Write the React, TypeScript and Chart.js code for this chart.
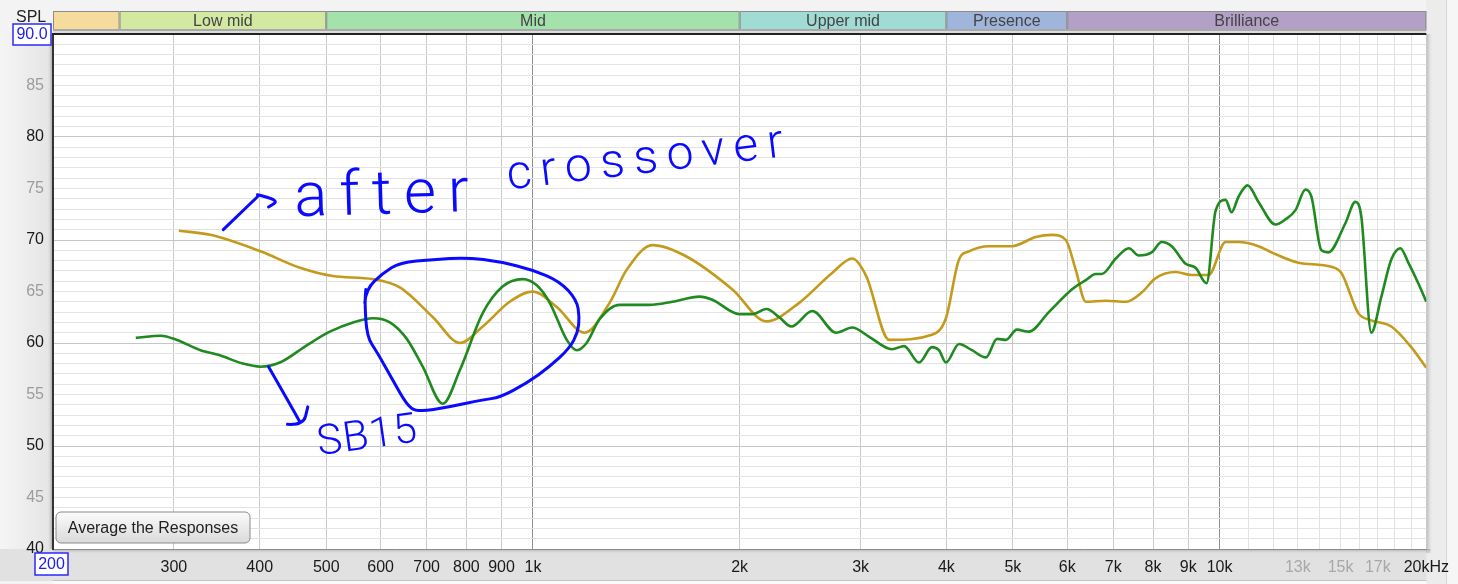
import React, { useEffect, useRef } from "react";
import { Chart, registerables } from "chart.js";

Chart.register(...registerables);

// ---- data (frequency in Hz, SPL in dB) ----
const greenFreq = [264, 287, 303, 328, 350, 378, 401, 428, 469, 506, 547, 585, 619, 655, 691, 739, 783, 845, 904, 966, 1013, 1058, 1120, 1158, 1197, 1250, 1337, 1478, 1596, 1748, 1825, 1998, 2087, 2188, 2284, 2378, 2552, 2764, 2917, 3088, 3334, 3471, 3650, 3811, 3902, 3994, 4173, 4358, 4567, 4741, 4884, 5066, 5274, 5640, 6092, 6383, 6602, 6735, 7060, 7376, 7625, 7962, 8234, 8514, 8922, 9226, 9572, 9864, 10202, 10408, 10655, 10982, 11392, 12060, 12472, 12898, 13335, 13604, 14068, 14398, 15241, 15762, 16081, 16631, 17202, 17783, 18331, 18827, 19467, 20000];
const greenSpl = [60.5, 60.7, 60.3, 59.3, 58.8, 58.0, 57.7, 58.1, 59.8, 61.1, 62.0, 62.4, 62.0, 60.4, 57.7, 54.1, 57.4, 62.9, 65.5, 66.2, 65.6, 63.9, 60.3, 59.3, 60.0, 62.3, 63.7, 63.7, 64.0, 64.5, 64.2, 62.8, 62.8, 63.3, 62.5, 61.6, 63.1, 61.0, 61.5, 60.6, 59.4, 59.7, 58.1, 59.6, 59.3, 58.1, 59.9, 59.3, 58.6, 60.4, 60.3, 61.3, 61.1, 63.0, 65.2, 66.1, 66.7, 66.7, 68.2, 69.2, 68.5, 68.8, 69.8, 69.4, 67.7, 67.3, 65.8, 72.8, 73.9, 72.7, 74.2, 75.3, 73.7, 71.5, 72.0, 72.9, 74.9, 74.2, 69.0, 68.8, 71.6, 73.7, 72.3, 61.0, 64.5, 68.1, 69.2, 67.8, 65.8, 64.0];

const goldFreq = [305, 339, 401, 458, 511, 585, 640, 715, 783, 845, 925, 999, 1083, 1189, 1293, 1369, 1493, 1673, 1952, 2188, 2442, 2727, 2917, 3057, 3302, 3811, 3994, 4173, 4315, 4613, 4984, 5400, 5698, 5971, 6173, 6383, 6826, 7300, 7700, 8070, 8628, 9103, 9636, 10202, 10655, 11392, 11898, 13027, 14546, 15043, 15924, 16631, 17783, 19012, 20000];
const goldSpl = [70.9, 70.5, 68.9, 67.3, 66.5, 66.2, 65.4, 62.5, 60.0, 61.6, 64.0, 65.0, 63.5, 61.0, 63.9, 67.1, 69.5, 68.4, 65.2, 62.1, 63.9, 66.8, 68.2, 66.5, 60.3, 60.8, 62.4, 68.1, 68.9, 69.4, 69.4, 70.3, 70.5, 70.0, 67.1, 64.0, 64.1, 64.0, 64.9, 66.3, 66.9, 66.6, 66.6, 69.8, 69.8, 69.4, 68.8, 67.8, 67.4, 66.8, 62.9, 62.2, 61.6, 59.6, 57.6];

// ---- axes ----
const xTickValues = [200, 300, 400, 500, 600, 700, 800, 900, 1000, 2000, 3000, 4000, 5000, 6000, 7000, 8000, 9000, 10000, 11000, 12000, 13000, 14000, 15000, 16000, 17000, 18000, 19000, 20000];
const xTickLabels = ["", "300", "400", "500", "600", "700", "800", "900", "1k", "2k", "3k", "4k", "5k", "6k", "7k", "8k", "9k", "10k", "", "", "13k", "", "15k", "", "17k", "", "", "20kHz"];
const xFadedLabels = [13000, 15000, 17000];
const yMin = 40;
const yMax = 90;

// ---- frequency bands ----
const bandEdges = [200, 250, 500, 2000, 4000, 6000, 20000];
const bandNames = ["", "Low mid", "Mid", "Upper mid", "Presence", "Brilliance"];
const bandColors = ["#f6dc9c", "#d3e8a0", "#a3e2ab", "#a0dcd3", "#a0b5dc", "#b3a0c7"];

// ---- hand-drawn annotations (in data units: Hz, dB) ----
const loopFreq = [569, 571, 605, 640, 715, 801, 895, 999, 1094, 1158, 1169, 1162, 1131, 1058, 979, 895, 845, 757, 678, 655, 625, 593, 573, 569, 571];
const loopSpl = [63.9, 65.2, 66.8, 67.8, 68.1, 68.3, 67.9, 67.1, 66.0, 64.2, 62.5, 61.0, 59.5, 57.7, 56.1, 54.7, 54.5, 53.8, 53.3, 54.0, 56.4, 59.1, 60.6, 63.9, 65.2];
const arrowAfterFreq = [354, 397];
const arrowAfterSpl = [71.0, 74.2];
const arrowAfterHeadFreq = [397, 428, 412];
const arrowAfterHeadSpl = [74.4, 73.9, 73.2];
const arrowSbFreq = [412, 439, 458];
const arrowSbSpl = [57.7, 54.5, 52.3];
const arrowSbHeadFreq = [439, 463, 470];
const arrowSbHeadSpl = [52.1, 52.0, 53.8];
const noteTexts = ["after", "crossover", "SB15"];
const noteFreq = [450, 921, 488];
const noteSpl = [72.3, 74.9, 49.1];

const INK = "#0a0aff";
const UI_FONT = "'Liberation Sans', Arial, sans-serif";

function smoothPath(ctx: CanvasRenderingContext2D, pts: number[][]) {
  if (pts.length < 3) {
    ctx.moveTo(pts[0][0], pts[0][1]);
    for (let i = 1; i < pts.length; i++) ctx.lineTo(pts[i][0], pts[i][1]);
    return;
  }
  ctx.moveTo(pts[0][0], pts[0][1]);
  for (let i = 1; i < pts.length - 1; i++) {
    const mx = (pts[i][0] + pts[i + 1][0]) / 2;
    const my = (pts[i][1] + pts[i + 1][1]) / 2;
    ctx.quadraticCurveTo(pts[i][0], pts[i][1], mx, my);
  }
  const l = pts[pts.length - 1];
  ctx.lineTo(l[0], l[1]);
}

const framePlugin = {
  id: "frame",
  beforeDraw(chart: any) {
    const { ctx, chartArea: a, width, height } = chart;
    const xs = chart.scales.x;
    ctx.save();
    ctx.fillStyle = "#f3f3f3";
    ctx.fillRect(0, 0, width, height);
    const lg = ctx.createLinearGradient(0, 0, a.left, 0);
    lg.addColorStop(0, "#f5f5f5");
    lg.addColorStop(1, "#e4e4e4");
    ctx.fillStyle = lg;
    ctx.fillRect(0, a.top, a.left, a.bottom - a.top);
    ctx.fillStyle = "#e1e1e1";
    ctx.fillRect(0, a.bottom, width, 32);
    ctx.fillStyle = "#ececec";
    ctx.fillRect(a.right, 0, width - a.right, height);
    ctx.fillStyle = "#d6d6d6";
    ctx.fillRect(1446, 0, 1, height);
    ctx.fillStyle = "#f6f6f6";
    ctx.fillRect(1447, 0, width - 1447, height);
    // shadows
    const rs = ctx.createLinearGradient(a.right, 0, a.right + 6, 0);
    rs.addColorStop(0, "#b8b8b8");
    rs.addColorStop(1, "rgba(220,220,220,0)");
    ctx.fillStyle = rs;
    ctx.fillRect(a.right, a.top, 6, a.bottom - a.top + 4);
    const bs = ctx.createLinearGradient(0, a.bottom, 0, a.bottom + 5);
    bs.addColorStop(0, "#a8a8a8");
    bs.addColorStop(1, "rgba(225,225,225,0)");
    ctx.fillStyle = bs;
    ctx.fillRect(a.left, a.bottom, a.right - a.left + 4, 5);
    const ls = ctx.createLinearGradient(a.left - 5, 0, a.left, 0);
    ls.addColorStop(0, "rgba(200,200,200,0)");
    ls.addColorStop(1, "#9a9a9a");
    ctx.fillStyle = ls;
    ctx.fillRect(a.left - 5, a.top, 5, a.bottom - a.top);
    // bottom scroll line
    ctx.fillStyle = "#c4c4c4";
    ctx.fillRect(a.left, 580, a.right - a.left, 1);
    ctx.fillStyle = "#fafafa";
    ctx.fillRect(a.left, 581, a.right - a.left, 3);
    // plot area
    ctx.fillStyle = "#ffffff";
    ctx.fillRect(a.left, a.top, a.right - a.left, a.bottom - a.top);
    // bands
    const bt = 11, bh = 19;
    ctx.font = "16px " + UI_FONT;
    ctx.textAlign = "center";
    ctx.textBaseline = "middle";
    for (let i = 0; i < bandNames.length; i++) {
      const x0 = xs.getPixelForValue(bandEdges[i]);
      const x1 = xs.getPixelForValue(bandEdges[i + 1]);
      ctx.fillStyle = bandColors[i];
      ctx.fillRect(x0, bt, x1 - x0, bh);
      ctx.strokeStyle = "#8c8c8c";
      ctx.lineWidth = 1;
      ctx.strokeRect(x0 + 0.5, bt + 0.5, x1 - x0 - 1, bh - 1);
      ctx.fillStyle = "#444";
      if (bandNames[i]) ctx.fillText(bandNames[i], (x0 + x1) / 2, bt + bh / 2 + 1);
    }
    ctx.fillStyle = "#a9a9a9";
    ctx.fillRect(a.left, bt + bh - 1, a.right - a.left, 2);
    ctx.fillStyle = "#dcdcdc";
    ctx.fillRect(a.left, bt + bh + 1, a.right - a.left, 2);
    ctx.restore();
  },
  afterDatasetsDraw(chart: any) {
    const { ctx } = chart;
    const xs = chart.scales.x;
    const ys = chart.scales.y;
    const P = (f: number[], s: number[]) => f.map((v, i) => [xs.getPixelForValue(v), ys.getPixelForValue(s[i])]);
    ctx.save();
    ctx.strokeStyle = INK;
    ctx.lineWidth = 3;
    ctx.lineCap = "round";
    ctx.lineJoin = "round";
    const strokes = [
      P(loopFreq, loopSpl),
      P(arrowAfterFreq, arrowAfterSpl),
      P(arrowAfterHeadFreq, arrowAfterHeadSpl),
      P(arrowSbFreq, arrowSbSpl),
      P(arrowSbHeadFreq, arrowSbHeadSpl),
    ];
    strokes.forEach((pts) => {
      ctx.beginPath();
      smoothPath(ctx, pts);
      ctx.stroke();
    });
    const fonts = ["300 62px Roboto", "300 48px Roboto", "300 42px Roboto"];
    const spacing = ["12px", "9px", "1px"];
    const angles = [-0.03, -0.12, -0.14];
    ctx.fillStyle = INK;
    ctx.textAlign = "left";
    ctx.textBaseline = "alphabetic";
    noteTexts.forEach((t, i) => {
      ctx.save();
      ctx.translate(xs.getPixelForValue(noteFreq[i]), ys.getPixelForValue(noteSpl[i]));
      ctx.rotate(angles[i]);
      ctx.font = fonts[i];
      (ctx as any).letterSpacing = spacing[i];
      ctx.fillText(t, 0, 0);
      ctx.restore();
    });
    ctx.restore();
  },
  afterDraw(chart: any) {
    const { ctx, chartArea: a } = chart;
    ctx.save();
    // top border
    ctx.fillStyle = "#222";
    ctx.fillRect(a.left - 1, a.top - 1, a.right - a.left + 1, 2);
    // SPL label
    ctx.font = "16px " + UI_FONT;
    ctx.fillStyle = "#222";
    ctx.textAlign = "left";
    ctx.textBaseline = "middle";
    ctx.fillText("SPL", 16, 18);
    // 90.0 box
    ctx.fillStyle = "#fff";
    ctx.fillRect(13, 24, 38, 21);
    ctx.strokeStyle = "#2a2aff";
    ctx.lineWidth = 1.5;
    ctx.strokeRect(13, 24, 38, 21);
    ctx.fillStyle = "#2020ee";
    ctx.textAlign = "center";
    ctx.fillText(yMax.toFixed(1), 32, 35);
    // 200 box
    ctx.fillStyle = "#fff";
    ctx.fillRect(35, 553, 33, 22);
    ctx.strokeStyle = "#2a2aff";
    ctx.strokeRect(35, 553, 33, 22);
    ctx.fillStyle = "#2020ee";
    ctx.fillText(String(xTickValues[0]), 51.5, 565);
    // button
    const bx = 56, by = 512, bw = 194, bh = 31, r = 5;
    const bg = ctx.createLinearGradient(0, by, 0, by + bh);
    bg.addColorStop(0, "#fbfbfb");
    bg.addColorStop(1, "#dadada");
    ctx.beginPath();
    ctx.moveTo(bx + r, by);
    ctx.arcTo(bx + bw, by, bx + bw, by + bh, r);
    ctx.arcTo(bx + bw, by + bh, bx, by + bh, r);
    ctx.arcTo(bx, by + bh, bx, by, r);
    ctx.arcTo(bx, by, bx + bw, by, r);
    ctx.closePath();
    ctx.fillStyle = bg;
    ctx.fill();
    ctx.strokeStyle = "#8a8a8a";
    ctx.lineWidth = 1;
    ctx.stroke();
    ctx.fillStyle = "#222";
    ctx.font = "16px " + UI_FONT;
    ctx.fillText("Average the Responses", bx + bw / 2, by + bh / 2 + 1);
    ctx.restore();
  },
};

export default function App() {
  const ref = useRef<HTMLCanvasElement | null>(null);
  useEffect(() => {
    document.body.style.margin = "0";
    const canvas = ref.current;
    if (!canvas) return;
    const chart = new Chart(canvas, {
      type: "line",
      data: {
        datasets: [
          {
            label: "SB15",
            data: greenFreq.map((f, i) => ({ x: f, y: greenSpl[i] })),
            borderColor: "#1f8a1f",
            borderWidth: 2.6,
            pointRadius: 0,
            cubicInterpolationMode: "monotone",
            fill: false,
          },
          {
            label: "after crossover",
            data: goldFreq.map((f, i) => ({ x: f, y: goldSpl[i] })),
            borderColor: "#c49a1c",
            borderWidth: 2.6,
            pointRadius: 0,
            cubicInterpolationMode: "monotone",
            fill: false,
          },
        ],
      },
      options: {
        animation: false,
        responsive: false,
        devicePixelRatio: 1,
        layout: { padding: { top: 34, right: 31, left: 0, bottom: 0 } },
        plugins: { legend: { display: false }, tooltip: { enabled: false } },
        events: [],
        scales: {
          x: {
            type: "logarithmic",
            min: 200,
            max: 20000,
            afterBuildTicks: (s: any) => {
              s.ticks = xTickValues.map((v) => ({ value: v }));
            },
            afterFit: (s: any) => {
              s.height = 35;
            },
            border: { display: true, color: "#8c8c8c", width: 1 },
            grid: {
              drawTicks: false,
              color: (c: any) => {
                const v = c.tick && c.tick.value;
                if (v === 1000 || v === 10000) return "#8e8e8e";
                if (v > 10000 && v < 20000) return "#e2e2e2";
                return "#c9c9c9";
              },
              lineWidth: 1,
            },
            ticks: {
              autoSkip: false,
              maxRotation: 0,
              padding: 9,
              font: { family: UI_FONT, size: 16 },
              color: (c: any) => (xFadedLabels.includes(c.tick.value) ? "#a8a8a8" : "#1a1a1a"),
              callback: (v: any) => {
                const i = xTickValues.indexOf(Number(v));
                return i >= 0 ? xTickLabels[i] : "";
              },
            },
          },
          y: {
            type: "linear",
            min: yMin,
            max: yMax,
            afterFit: (s: any) => {
              s.width = 53;
            },
            border: { display: true, color: "#333", width: 2 },
            grid: {
              drawTicks: false,
              color: (c: any) => (c.tick.value % 10 === 0 ? "#c6c6c6" : "#e3e3e3"),
              lineWidth: 1,
            },
            ticks: {
              stepSize: 1,
              autoSkip: false,
              padding: 9,
              font: { family: UI_FONT, size: 16 },
              color: (c: any) => (c.tick.value % 10 === 0 ? "#1a1a1a" : "#9c9c9c"),
              callback: (v: any) => {
                const n = Number(v);
                return n % 5 === 0 && n !== yMax ? String(n) : "";
              },
            },
          },
        },
      },
      plugins: [framePlugin],
    } as any);
    return () => chart.destroy();
  }, []);
  return (
    <div style={{ position: "absolute", left: 0, top: 0, width: 1458, height: 584 }}>
      <canvas ref={ref} width={1458} height={584} style={{ width: 1458, height: 584, display: "block" }} />
    </div>
  );
}
